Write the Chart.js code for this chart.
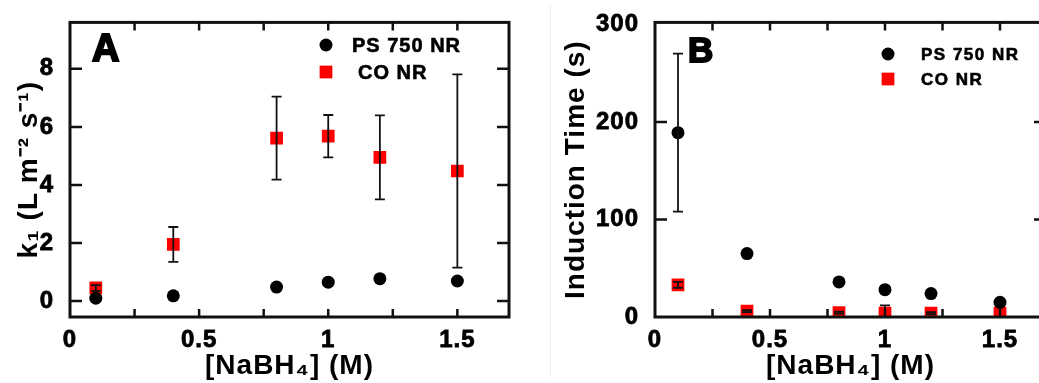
<!DOCTYPE html>
<html>
<head>
<meta charset="utf-8">
<script src="https://cdn.jsdelivr.net/npm/chart.js@4.4.1/dist/chart.umd.min.js"></script>
<style>
  html, body { margin: 0; padding: 0; background: #fff; }
  body { width: 1039px; height: 383px; overflow: hidden; position: relative; }
  canvas { position: absolute; top: 0; }
  #chartA { left: 0; }
  #chartB { left: 552px; }
  .sep { position: absolute; left: 550px; top: 5px; width: 1px; height: 373px; background: #f0f0f0; }
</style>
</head>
<body>
<canvas id="chartA" width="548" height="383"></canvas>
<div class="sep"></div>
<canvas id="chartB" width="510" height="383"></canvas>
<script>
// [NaBH4] concentrations (M)
const conc = [0.1, 0.4, 0.8, 1.0, 1.2, 1.5];

// panel A: k1 (L m-2 s-1)
const psK = [0.10, 0.18, 0.48, 0.65, 0.77, 0.69];
const psKErr = [0, 0, 0, 0, 0, 0];
const coK = [0.45, 1.95, 5.61, 5.68, 4.95, 4.48];
const coKErr = [0.1, 0.6, 1.43, 0.73, 1.45, 3.33];

// panel B: induction time (s)
const psT = [189, 65, 36, 28, 24, 15];
const psTErr = [81, 0, 0, 0, 0, 0];
const coT = [33, 6, 4.5, 4, 4, 4];
const coTErr = [3, 1, 1, 8, 1, 8];

// ticks
const xTicks = [0, 0.25, 0.5, 0.75, 1, 1.25, 1.5];
const xTickLabels = ['0', '', '0.5', '', '1', '', '1.5'];
const kTicks = [0, 2, 4, 6, 8];
const tTicks = [0, 100, 200, 300];

const seriesNames = ['PS 750 NR', 'CO NR'];
const FONT = "'Liberation Sans', Arial, sans-serif";

const panelPlugin = {
  id: 'panel',
  beforeDraw(chart) {
    chart.ctx.letterSpacing = '1px';
  },
  // error bars right after each dataset, so circles cover the red bars
  afterDatasetDraw(chart, args) {
    const { ctx, chartArea: a, scales } = chart;
    const ds = chart.data.datasets[args.index];
    ctx.save();
    ctx.beginPath();
    ctx.rect(a.left, a.top, a.width, a.height);
    ctx.clip();
    ctx.strokeStyle = '#111';
    ctx.lineWidth = 1.8;
    ds.data.forEach((p, i) => {
      const e = ds.errors[i];
      if (!e) return;
      const x = scales.x.getPixelForValue(p.x);
      const y1 = scales.y.getPixelForValue(p.y + e);
      const y2 = scales.y.getPixelForValue(p.y - e);
      ctx.beginPath();
      ctx.moveTo(x, y1); ctx.lineTo(x, y2);
      ctx.moveTo(x - 5, y1); ctx.lineTo(x + 5, y1);
      ctx.moveTo(x - 5, y2); ctx.lineTo(x + 5, y2);
      ctx.stroke();
    });
    ctx.restore();
  },
  afterDraw(chart, args, opts) {
    const { ctx, chartArea: a, scales } = chart;
    ctx.save();
    ctx.strokeStyle = '#111';
    // inward tick marks on all four sides
    ctx.lineWidth = 2.5;
    scales.x.ticks.forEach(t => {
      const x = scales.x.getPixelForValue(t.value);
      if (x < a.left + 3 || x > a.right - 3) return;
      ctx.beginPath();
      ctx.moveTo(x, a.bottom); ctx.lineTo(x, a.bottom - 8);
      ctx.moveTo(x, a.top); ctx.lineTo(x, a.top + 8);
      ctx.stroke();
    });
    scales.y.ticks.forEach(t => {
      const y = scales.y.getPixelForValue(t.value);
      if (y < a.top + 3 || y > a.bottom - 3) return;
      ctx.beginPath();
      ctx.moveTo(a.left, y); ctx.lineTo(a.left + 12, y);
      ctx.moveTo(a.right, y); ctx.lineTo(a.right - 12, y);
      ctx.stroke();
    });
    ctx.lineWidth = 3;
    ctx.strokeRect(a.left, a.top, a.width, a.height);

    // legend
    const lg = opts.legend;
    ctx.font = 'bold ' + lg.size + 'px ' + FONT;
    ctx.letterSpacing = lg.spacing + 'px';
    ctx.textBaseline = 'middle';
    ctx.lineWidth = 0.6;
    ctx.strokeStyle = '#000';
    chart.data.datasets.forEach((ds, i) => {
      const y = lg.y + i * lg.dy;
      ctx.fillStyle = ds.backgroundColor;
      if (ds.pointStyle === 'circle') {
        ctx.beginPath();
        ctx.arc(lg.x, y, ds.pointRadius, 0, Math.PI * 2);
        ctx.fill();
      } else {
        const s = ds.pointRadius * Math.SQRT1_2;
        ctx.fillRect(lg.x - s, y - s, 2 * s, 2 * s);
      }
      ctx.fillStyle = '#000';
      ctx.fillText(ds.label, lg.textX[i], y + 1);
      ctx.strokeText(ds.label, lg.textX[i], y + 1);
    });

    // panel letter
    const L = opts.letter;
    ctx.font = 'bold ' + L.size + 'px ' + FONT;
    ctx.letterSpacing = '0px';
    ctx.textBaseline = 'alphabetic';
    ctx.lineWidth = 2;
    ctx.fillText(L.text, L.x, L.y);
    ctx.strokeText(L.text, L.x, L.y);
    ctx.restore();
  }
};

function makePanel(id, p) {
  return new Chart(document.getElementById(id), {
    type: 'scatter',
    data: {
      datasets: [
        {
          label: seriesNames[0],
          data: conc.map((x, i) => ({ x, y: p.ps[i] })),
          errors: p.psErr,
          pointStyle: 'circle',
          pointRadius: 6.5,
          backgroundColor: '#000',
          borderWidth: 0,
          clip: 0
        },
        {
          label: seriesNames[1],
          data: conc.map((x, i) => ({ x, y: p.co[i] })),
          errors: p.coErr,
          pointStyle: 'rect',
          pointRadius: 9,
          backgroundColor: '#ff0000',
          borderWidth: 0,
          clip: 0
        }
      ]
    },
    options: {
      responsive: false,
      animation: false,
      devicePixelRatio: 1,
      layout: { padding: { top: 17, right: p.padRight, left: 0, bottom: 0 } },
      plugins: {
        legend: { display: false },
        tooltip: { enabled: false },
        panel: { legend: p.legend, letter: p.letter }
      },
      scales: {
        x: {
          type: 'linear',
          min: 0,
          max: 1.7,
          afterFit: s => { s.height = 66; },
          afterBuildTicks: s => { s.ticks = xTicks.map(v => ({ value: v })); },
          grid: { display: false },
          border: { display: false },
          ticks: {
            autoSkip: false,
            maxRotation: 0,
            padding: 1,
            color: '#000',
            textStrokeColor: '#000',
            textStrokeWidth: 0.8,
            font: { family: FONT, size: 24, weight: 'bold' },
            callback: (v, i) => xTickLabels[i]
          },
          title: {
            display: true,
            text: '[NaBH\u2084] (M)',
            color: '#000',
            padding: { top: 0, bottom: 0 },
            font: { family: FONT, size: 28, weight: 'bold' }
          }
        },
        y: {
          type: 'linear',
          min: p.yMin,
          max: p.yMax,
          afterFit: s => { s.width = p.yWidth; },
          afterBuildTicks: s => { s.ticks = p.yTicks.map(v => ({ value: v })); },
          grid: { display: false },
          border: { display: false },
          ticks: {
            padding: 8,
            color: '#000',
            textStrokeColor: '#000',
            textStrokeWidth: 0.8,
            font: { family: FONT, size: 24, weight: 'bold' },
            callback: v => String(v)
          },
          title: {
            display: true,
            text: p.yTitle,
            color: '#000',
            padding: { top: p.titlePad, bottom: 0 },
            font: { family: FONT, size: 28, weight: 'bold' }
          }
        }
      }
    },
    plugins: [panelPlugin]
  });
}

makePanel('chartA', {
  ps: psK, psErr: psKErr, co: coK, coErr: coKErr,
  yMin: -0.55, yMax: 9.6, yTicks: kTicks, yWidth: 70, padRight: 39,
  yTitle: 'k\u2081 (L m\u207B\u00B2 s\u207B\u00B9)', titlePad: 12,
  legend: { x: 326, y: 45, dy: 27, textX: [352, 358], size: 20, spacing: 1 },
  letter: { text: 'A', x: 92, y: 61, size: 38 }
});

makePanel('chartB', {
  ps: psT, psErr: psTErr, co: coT, coErr: coTErr,
  yMin: 0, yMax: 302, yTicks: tTicks, yWidth: 103, padRight: 16,
  yTitle: 'Induction Time (s)', titlePad: 7,
  legend: { x: 336, y: 54, dy: 25, textX: [369, 369], size: 17, spacing: 1.5 },
  letter: { text: 'B', x: 136, y: 62, size: 35 }
});
</script>
</body>
</html>
